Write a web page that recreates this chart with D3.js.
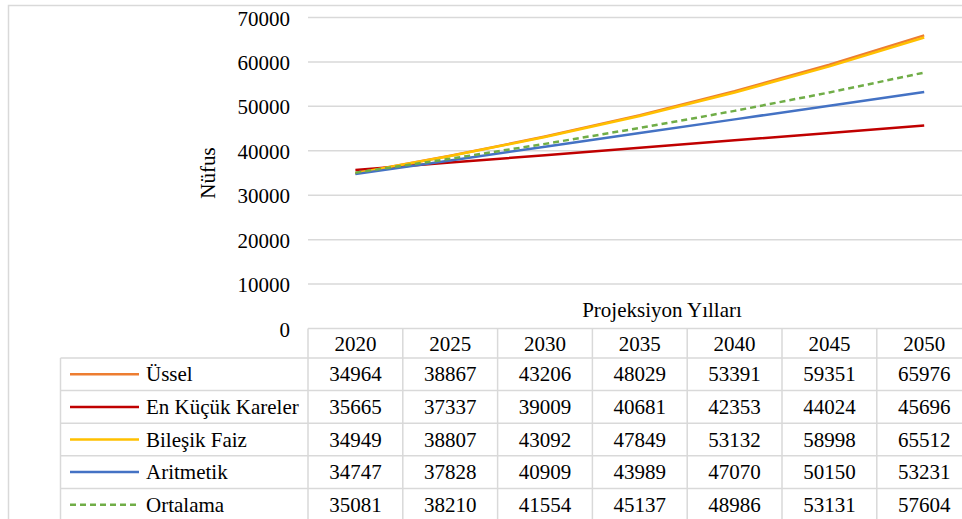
<!DOCTYPE html>
<html>
<head>
<meta charset="utf-8">
<script src="https://cdn.jsdelivr.net/npm/d3@7"></script>
<style>
  body { margin: 0; background: #fff; }
</style>
</head>
<body>
<div id="chart"></div>
<script>
var years = ["2020", "2025", "2030", "2035", "2040", "2045", "2050"];
var names = ["Üssel", "En Küçük Kareler", "Bileşik Faiz", "Aritmetik", "Ortalama"];
var ussel    = [34964, 38867, 43206, 48029, 53391, 59351, 65976];
var enKucuk  = [35665, 37337, 39009, 40681, 42353, 44024, 45696];
var bilesik  = [34949, 38807, 43092, 47849, 53132, 58998, 65512];
var aritmetik = [34747, 37828, 40909, 43989, 47070, 50150, 53231];
var ortalama = [35081, 38210, 41554, 45137, 48986, 53131, 57604];
var yTicks = [0, 10000, 20000, 30000, 40000, 50000, 60000, 70000];

var colors = ["#ED7D31", "#C00000", "#FFC000", "#4472C4", "#70AD47"];
var dashes = [null, null, null, null, "6,4"];
var series = [ussel, enKucuk, bilesik, aritmetik, ortalama];

var W = 962, H = 519;
var grid = "#d9d9d9";
var fs = "21px";
var ff = "'Liberation Serif', 'DejaVu Serif', 'Times New Roman', serif";

var svg = d3.select("#chart").append("svg")
    .attr("width", W).attr("height", H)
    .attr("font-family", ff);

function label(sel) {
  return sel.style("font-family", ff).style("font-size", fs).attr("fill", "#000");
}

// outer chart border
svg.append("rect")
    .attr("x", 8.5).attr("y", 5.5)
    .attr("width", 1100).attr("height", 600)
    .attr("fill", "none").attr("stroke", grid).attr("stroke-width", 1.5);

var x = d3.scaleBand().domain(years).range([308, 308 + 7 * 94.8]);
var y = d3.scaleLinear().domain([0, 70000]).range([328.5, 17.5]);

// gridlines
svg.append("g").selectAll("line")
    .data(yTicks.filter(function(d) { return d > 0; }))
    .enter().append("line")
    .attr("x1", 308).attr("x2", 975)
    .attr("y1", function(d) { return y(d); })
    .attr("y2", function(d) { return y(d); })
    .attr("stroke", grid).attr("stroke-width", 1.5);

// tick labels
label(svg.append("g").selectAll("text")
    .data(yTicks)
    .enter().append("text")
    .attr("x", 290)
    .attr("y", function(d) { return y(d) + 1; })
    .attr("text-anchor", "end")
    .attr("dominant-baseline", "central"))
    .text(function(d) { return d; });

label(svg.append("text")
    .attr("transform", "translate(208,173) rotate(-90)")
    .attr("text-anchor", "middle")
    .attr("dominant-baseline", "central"))
    .text("Nüfus");

label(svg.append("text")
    .attr("x", 662).attr("y", 310)
    .attr("text-anchor", "middle")
    .attr("dominant-baseline", "central"))
    .text("Projeksiyon Yılları");

// data table
var headTop = 328.5, headBot = 358, rowH = 32.6, tableLeft = 60.5;
var xEnd = x.range()[1];
var tbl = svg.append("g").attr("stroke", grid).attr("stroke-width", 1.5);
tbl.append("line").attr("x1", 308).attr("x2", xEnd).attr("y1", headTop).attr("y2", headTop);
for (var r = 0; r <= names.length; r++) {
  var yy = headBot + r * rowH;
  tbl.append("line").attr("x1", tableLeft).attr("x2", xEnd).attr("y1", yy).attr("y2", yy);
}
tbl.append("line").attr("x1", tableLeft).attr("x2", tableLeft).attr("y1", headBot).attr("y2", H + 10);
tbl.selectAll(".vl").data(years.concat(["end"]))
    .enter().append("line")
    .attr("x1", function(d, i) { return 308 + i * x.bandwidth(); })
    .attr("x2", function(d, i) { return 308 + i * x.bandwidth(); })
    .attr("y1", headTop).attr("y2", H + 10);

label(svg.append("g").selectAll("text")
    .data(years).enter().append("text")
    .attr("x", function(d) { return x(d) + x.bandwidth() / 2; })
    .attr("y", (headTop + headBot) / 2 + 1)
    .attr("text-anchor", "middle")
    .attr("dominant-baseline", "central"))
    .text(function(d) { return d; });

names.forEach(function(name, i) {
  var cy = headBot + i * rowH + rowH / 2;
  svg.append("line")
      .attr("x1", 70).attr("x2", 139).attr("y1", cy).attr("y2", cy)
      .attr("stroke", colors[i]).attr("stroke-width", 2.5)
      .attr("stroke-dasharray", dashes[i]);
  label(svg.append("text")
      .attr("x", 146).attr("y", cy)
      .attr("dominant-baseline", "central"))
      .text(name);
  label(svg.append("g").selectAll("text")
      .data(series[i]).enter().append("text")
      .attr("x", function(d, j) { return x(years[j]) + x.bandwidth() / 2; })
      .attr("y", cy)
      .attr("text-anchor", "middle")
      .attr("dominant-baseline", "central"))
      .text(function(d) { return d; });
});

// lines
var line = d3.line()
    .x(function(d, j) { return x(years[j]) + x.bandwidth() / 2; })
    .y(function(d) { return y(d); });

series.forEach(function(s, i) {
  svg.append("path")
      .datum(s)
      .attr("d", line)
      .attr("fill", "none")
      .attr("stroke", colors[i])
      .attr("stroke-width", 2.5)
      .attr("stroke-linejoin", "round")
      .attr("stroke-dasharray", dashes[i]);
});
</script>
</body>
</html>
